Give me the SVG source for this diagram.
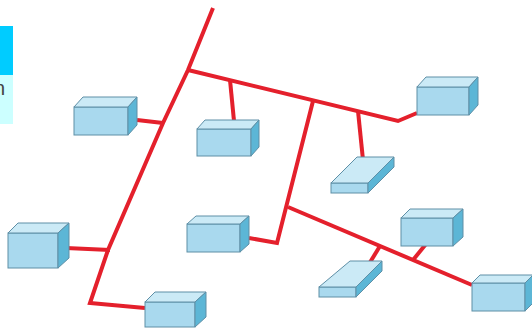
<svg xmlns="http://www.w3.org/2000/svg" width="532" height="331" viewBox="0 0 532 331">
<style>
.w{fill:none;stroke:#E4202C;stroke-width:4;stroke-linejoin:miter;stroke-linecap:butt}
.f{fill:#A9D9EE;stroke:#5E8FA6;stroke-width:1}
.t{fill:#CBEAF6;stroke:#5E8FA6;stroke-width:1}
.s{fill:#5CB6D6;stroke:#5E8FA6;stroke-width:1}
</style>
<rect width="532" height="331" fill="#FFFFFF"/>
<g id="panel">
<rect x="0" y="26" width="13" height="49" fill="#00CCFF"/>
<rect x="0" y="75" width="13" height="49" fill="#CCFFFF"/>
<text x="5" y="95" text-anchor="end" font-family="Liberation Sans, Arial, sans-serif" font-size="20" fill="#444444">n</text>
</g>
<g id="connectors">
<polyline class="w" points="213,8 188,70 163,123 108,250 90,303 145,308"/>
<polyline class="w" points="188,70 398,121 417,113"/>
<line class="w" x1="230" y1="80" x2="234" y2="121"/>
<polyline class="w" points="313,101 277,243 249,238"/>
<line class="w" x1="358" y1="111" x2="363" y2="160"/>
<line class="w" x1="137" y1="120" x2="163" y2="123"/>
<line class="w" x1="66" y1="248" x2="110" y2="250"/>
<line class="w" x1="288" y1="207" x2="472" y2="285"/>
<line class="w" x1="380" y1="246" x2="369" y2="264"/>
<line class="w" x1="413" y1="260" x2="426" y2="244"/>
</g>
<g id="box1"><rect class="f" x="74" y="107" width="54" height="28"/><polygon class="t" points="74,107 83,97 137,97 128,107"/><polygon class="s" points="128,107 137,97 137,125 128,135"/></g>
<g id="box2"><rect class="f" x="197" y="129" width="54" height="27"/><polygon class="t" points="197,129 205,120 259,120 251,129"/><polygon class="s" points="251,129 259,120 259,147 251,156"/></g>
<g id="box3"><rect class="f" x="417" y="87" width="52" height="28"/><polygon class="t" points="417,87 426,77 478,77 469,87"/><polygon class="s" points="469,87 478,77 478,105 469,115"/></g>
<g id="hub1"><rect class="f" x="331" y="183" width="37" height="10"/><polygon class="t" points="331,183 357,157 394,157 368,183"/><polygon class="s" points="368,183 394,157 394,167 368,193"/></g>
<g id="box5"><rect class="f" x="8" y="233" width="50" height="35"/><polygon class="t" points="8,233 18,223 69,223 58,233"/><polygon class="s" points="58,233 69,223 69,258 58,268"/></g>
<g id="box6"><rect class="f" x="187" y="224" width="53" height="28"/><polygon class="t" points="187,224 196,216 249,216 240,224"/><polygon class="s" points="240,224 249,216 249,244 240,252"/></g>
<g id="box7"><rect class="f" x="145" y="302" width="50" height="25"/><polygon class="t" points="145,302 155,292 206,292 195,302"/><polygon class="s" points="195,302 206,292 206,317 195,327"/></g>
<g id="hub2"><rect class="f" x="319" y="287" width="37" height="10"/><polygon class="t" points="319,287 350,261 382,261 356,287"/><polygon class="s" points="356,287 382,261 382,271 356,297"/></g>
<g id="box9"><rect class="f" x="401" y="218" width="52" height="28"/><polygon class="t" points="401,218 410,209 463,209 453,218"/><polygon class="s" points="453,218 463,209 463,237 453,246"/></g>
<g id="box10"><rect class="f" x="472" y="283" width="53" height="28"/><polygon class="t" points="472,283 480,275 533,275 525,283"/><polygon class="s" points="525,283 533,275 533,303 525,311"/></g>
</svg>
